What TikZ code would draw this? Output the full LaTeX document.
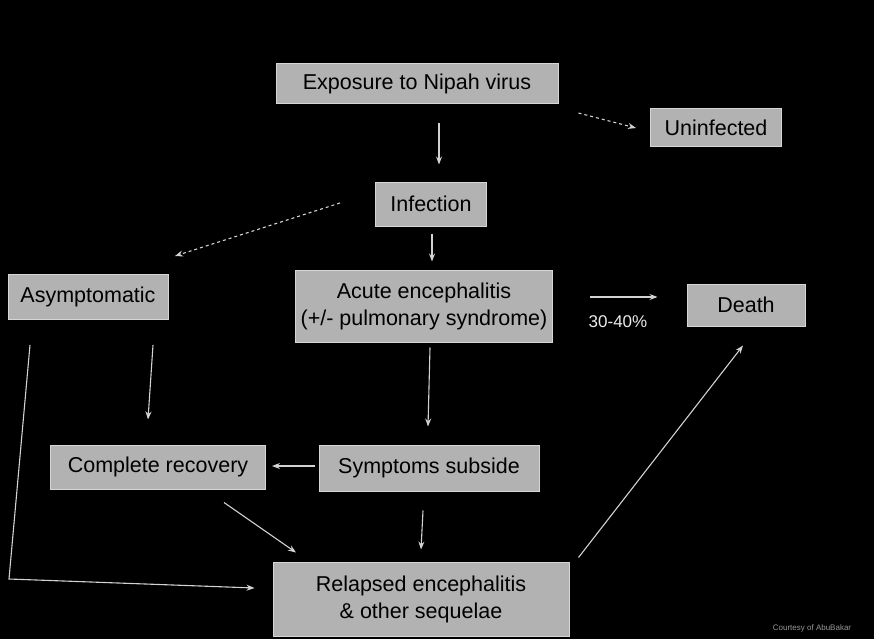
\documentclass[tikz,border=0pt]{standalone}
\usepackage{fontspec}
\setmainfont{Liberation Sans}
\usetikzlibrary{arrows.meta}
\definecolor{boxgray}{HTML}{B2B2B2}
\definecolor{rimgray}{HTML}{D6D6D6}
\definecolor{linkgray}{HTML}{D2D2D2}

\begin{document}
\begin{tikzpicture}[x=1pt,y=-1pt,
    box/.style={draw=rimgray,fill=boxgray,line width=1pt,text=black,inner sep=0pt,
        align=center,font=\fontsize{21.5}{27}\selectfont},
    link/.style={draw=linkgray,line width=1.1pt,-{Stealth[length=8pt,width=6pt]}}]
            \fill[black] (0,0) rectangle (874,639);

            % Boxes
            \node[box,minimum width=282,minimum height=40] (expo) at (417,84) {Exposure to Nipah virus};
            \node[box,minimum width=131,minimum height=38] (uninf) at (716,128) {Uninfected};
            \node[box,minimum width=111,minimum height=44] (infect) at (431,204) {Infection};
            \node[box,minimum width=160,minimum height=45] (asym) at (88,297) {Asymptomatic};
            \node[box,minimum width=257,minimum height=72] (acute) at (424,306)
                {Acute encephalitis\\(+/- pulmonary syndrome)};
            \node[box,minimum width=118,minimum height=42] (death) at (746,305) {Death};
            \node[box,minimum width=215,minimum height=44] (recov) at (158,467) {Complete recovery};
            \node[box,minimum width=220,minimum height=46] (subside) at (429,468) {Symptoms subside};
            \node[box,minimum width=296,minimum height=74] (relapse) at (421,599)
                {Relapsed encephalitis\\\& other sequelae};

            \node[text=white!85!gray,font=\fontsize{17}{20}\selectfont] (pct) at (618,322) {30-40\%};
            \node[text=gray!80!white,font=\fontsize{8}{9}\selectfont] (credit) at (812,628) {Courtesy of AbuBakar};

            % Arrows
            \draw[link] ([shift={(22,19)}]expo.south) -- ([shift={(8,-17)}]infect.north);
            \draw[link,dashed] ([shift={(20,29)}]expo.east) -- ([shift={(-14,0)}]uninf.west);
            \draw[link,dashed] ([shift={(-35,-1)}]infect.west) -- ([shift={(87,-18)}]asym.north);
            \draw[link] ([shift={(1,7)}]infect.south) -- ([shift={(8,-8)}]acute.north);
            \draw[link] ([shift={(37,-9)}]acute.east) -- ([shift={(-29,-8)}]death.west);
            \draw[link] ([shift={(65,25)}]asym.south) -- ([shift={(-10,-25)}]recov.north);
            \draw[link] ([shift={(6,5)}]acute.south) -- ([shift={(-1,-18)}]subside.north);
            \draw[link] ([shift={(-4,-2)}]subside.west) -- ([shift={(6,-1)}]recov.east);
            \draw[link] ([shift={(66,13)}]recov.south) -- ([shift={(-125,-9)}]relapse.north);
            \draw[link] ([shift={(-6,19)}]subside.south) -- ([shift={(0,-12)}]relapse.north);

            \coordinate (bend) at (9,579);
            \draw[link] ([shift={(-58,25)}]asym.south) -- (bend) -- ([shift={(-18,-11)}]relapse.west);
            \draw[link] ([shift={(9,-4)}]relapse.north east) -- ([shift={(-3,19)}]death.south);
        \end{tikzpicture}
\end{document}
